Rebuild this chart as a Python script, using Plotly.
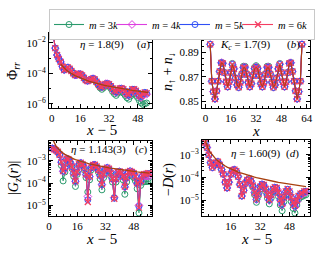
import plotly.graph_objects as go

W, H = 321, 253

# ---------------- data ----------------
# (a) pair correlation Phi_rr vs x-5
r_a = list(range(1, 54))
phi_m6 = [2.8e-2, 4.5e-3, 1.6e-3, 8.9e-4, 5.6e-4, 2.8e-4, 1.66e-4, 1.9e-4, 2.4e-4, 2.0e-4,
          1.41e-4, 1.0e-4, 7.6e-5, 7.9e-5, 8.9e-5, 8.9e-5, 7.1e-5, 5.0e-5, 3.55e-5, 3.16e-5,
          3.55e-5, 4.0e-5, 4.5e-5, 4.0e-5, 2.8e-5, 2.0e-5, 1.41e-5, 1.26e-5, 1.58e-5, 2.0e-5,
          2.1e-5, 1.9e-5, 1.41e-5, 1.0e-5, 7.1e-6, 6.0e-6, 7.9e-6, 1.0e-5, 1.05e-5, 8.9e-6,
          6.3e-6, 4.5e-6, 4.0e-6, 6.3e-6, 8.9e-6, 8.9e-6, 7.1e-6, 5.0e-6, 3.55e-6, 3.16e-6,
          4.5e-6, 5.6e-6, 5.0e-6]
phi_m5 = [2.8e-2, 4.5e-3, 1.6e-3, 8.9e-4, 5.6e-4, 2.8e-4, 1.66e-4, 1.9e-4, 2.4e-4, 2.0e-4,
          1.41e-4, 1.0e-4, 7.6e-5, 7.9e-5, 8.9e-5, 8.9e-5, 7.1e-5, 5.0e-5, 3.55e-5, 3.16e-5,
          3.55e-5, 4.0e-5, 4.5e-5, 4.0e-5, 2.8e-5, 2.0e-5, 1.41e-5, 1.26e-5, 1.58e-5, 2.0e-5,
          2.1e-5, 1.9e-5, 1.41e-5, 1.0e-5, 7.1e-6, 6.0e-6, 7.9e-6, 1.0e-5, 1.05e-5, 8.9e-6,
          6.3e-6, 4.5e-6, 3.8e-6, 6.3e-6, 8.9e-6, 8.9e-6, 7.1e-6, 5.0e-6, 3.4e-6, 3.0e-6,
          4.5e-6, 5.6e-6, 4.8e-6]
phi_m4 = [2.8e-2, 4.5e-3, 1.6e-3, 8.9e-4, 5.6e-4, 2.8e-4, 1.66e-4, 1.9e-4, 2.4e-4, 2.0e-4,
          1.41e-4, 1.0e-4, 7.6e-5, 7.9e-5, 8.9e-5, 8.9e-5, 7.1e-5, 5.0e-5, 3.55e-5, 3.16e-5,
          3.55e-5, 4.0e-5, 4.5e-5, 4.0e-5, 2.8e-5, 2.0e-5, 1.41e-5, 1.26e-5, 1.58e-5, 2.0e-5,
          2.1e-5, 1.9e-5, 1.41e-5, 9.5e-6, 6.6e-6, 5.5e-6, 7.4e-6, 9.3e-6, 9.6e-6, 8.1e-6,
          5.7e-6, 4.0e-6, 3.5e-6, 5.6e-6, 8.0e-6, 8.0e-6, 6.3e-6, 4.4e-6, 3.0e-6, 2.6e-6,
          3.7e-6, 4.7e-6, 4.2e-6]
phi_m3 = [2.8e-2, 4.5e-3, 1.6e-3, 8.9e-4, 5.6e-4, 2.8e-4, 1.66e-4, 1.9e-4, 2.4e-4, 2.0e-4,
          1.41e-4, 1.0e-4, 7.6e-5, 7.9e-5, 8.9e-5, 8.9e-5, 7.1e-5, 5.0e-5, 3.55e-5, 3.16e-5,
          3.55e-5, 4.0e-5, 4.5e-5, 4.0e-5, 2.5e-5, 1.66e-5, 1.12e-5, 8.9e-6, 1.12e-5, 1.5e-5,
          1.58e-5, 1.41e-5, 1.0e-5, 6.3e-6, 4.5e-6, 3.55e-6, 5.0e-6, 6.3e-6, 6.3e-6, 5.0e-6,
          3.55e-6, 2.5e-6, 2.0e-6, 3.16e-6, 4.5e-6, 4.5e-6, 3.55e-6, 2.5e-6, 1.58e-6, 1.12e-6,
          8.9e-7, 1.0e-6, 1.12e-6]
fit_a_amp, fit_a_exp = 7.2e-3, 1.8          # power-law fit shown in (a)
fit_a_r = list(range(5, 55))

# (b) density profile n_up + n_down vs x
x_b = list(range(3, 62))
n_m6 = [0.8966, 0.8665, 0.8580, 0.8520, 0.8585, 0.8665, 0.8745, 0.8815, 0.8810, 0.8735,
        0.8660, 0.8620, 0.8660, 0.8735, 0.8800, 0.8765, 0.8690, 0.8635, 0.8615, 0.8655,
        0.8720, 0.8775, 0.8775, 0.8720, 0.8655, 0.8620, 0.8645, 0.8710, 0.8765, 0.8778,
        0.8765, 0.8710, 0.8645, 0.8620, 0.8655, 0.8720, 0.8775, 0.8775, 0.8720, 0.8655,
        0.8615, 0.8635, 0.8690, 0.8765, 0.8800, 0.8735, 0.8660, 0.8620, 0.8660, 0.8735,
        0.8810, 0.8815, 0.8745, 0.8665, 0.8585, 0.8520, 0.8580, 0.8665, 0.8966]
n_m5 = [0.8966, 0.8665, 0.8580, 0.8520, 0.8585, 0.8665, 0.8745, 0.8815, 0.8810, 0.8735,
        0.8660, 0.8620, 0.8660, 0.8735, 0.8801, 0.8765, 0.8690, 0.8635, 0.8615, 0.8655,
        0.8720, 0.8776, 0.8776, 0.8720, 0.8655, 0.8620, 0.8645, 0.8710, 0.8766, 0.8779,
        0.8766, 0.8710, 0.8645, 0.8620, 0.8655, 0.8720, 0.8776, 0.8776, 0.8720, 0.8655,
        0.8615, 0.8635, 0.8690, 0.8765, 0.8801, 0.8735, 0.8660, 0.8620, 0.8660, 0.8735,
        0.8810, 0.8815, 0.8745, 0.8665, 0.8585, 0.8520, 0.8580, 0.8665, 0.8966]
n_m4 = [0.8966, 0.8665, 0.8580, 0.8520, 0.8585, 0.8665, 0.8745, 0.8816, 0.8811, 0.8735,
        0.8660, 0.8620, 0.8660, 0.8736, 0.8803, 0.8767, 0.8690, 0.8635, 0.8615, 0.8656,
        0.8722, 0.8779, 0.8779, 0.8722, 0.8655, 0.8620, 0.8646, 0.8712, 0.8769, 0.8782,
        0.8769, 0.8712, 0.8646, 0.8620, 0.8655, 0.8722, 0.8779, 0.8779, 0.8722, 0.8656,
        0.8615, 0.8635, 0.8690, 0.8767, 0.8803, 0.8736, 0.8660, 0.8620, 0.8660, 0.8735,
        0.8811, 0.8816, 0.8745, 0.8665, 0.8585, 0.8520, 0.8580, 0.8665, 0.8966]
n_m3 = [0.8966, 0.8665, 0.8580, 0.8520, 0.8585, 0.8665, 0.8745, 0.8818, 0.8813, 0.8736,
        0.8660, 0.8618, 0.8662, 0.8740, 0.8810, 0.8772, 0.8692, 0.8633, 0.8613, 0.8658,
        0.8728, 0.8787, 0.8787, 0.8728, 0.8656, 0.8618, 0.8648, 0.8718, 0.8777, 0.8792,
        0.8777, 0.8718, 0.8648, 0.8618, 0.8656, 0.8728, 0.8787, 0.8787, 0.8728, 0.8658,
        0.8613, 0.8633, 0.8692, 0.8772, 0.8810, 0.8740, 0.8662, 0.8618, 0.8660, 0.8736,
        0.8813, 0.8818, 0.8745, 0.8665, 0.8585, 0.8520, 0.8580, 0.8665, 0.8966]

# (c) |G_z(r)| vs x-5
r_cd = list(range(2, 58))
gz_m6 = [3.7e-3, 3.4e-3, 3.0e-3, 2.6e-3, 1.9e-3, 8.9e-4, 3.55e-4, 5.0e-4, 1.26e-3, 1.2e-3,
         8.9e-4, 5.6e-4, 2.8e-4, 1.26e-4, 3.16e-4, 7.1e-4, 8.3e-4, 7.1e-4, 5.0e-4, 2.5e-4,
         1.41e-5, 2.0e-4, 5.0e-4, 6.6e-4, 6.8e-4, 5.6e-4, 4.0e-4, 2.24e-4, 8.9e-5, 2.5e-4,
         4.5e-4, 5.0e-4, 4.5e-4, 2.8e-4, 1.58e-4, 2.0e-5, 1.58e-4, 3.16e-4, 3.4e-4, 3.0e-4,
         2.0e-4, 7.1e-5, 1.78e-4, 3.16e-4, 3.55e-4, 3.16e-4, 2.8e-4, 2.0e-4, 1.0e-4, 7.9e-6,
         1.26e-4, 2.24e-4, 2.5e-4, 2.6e-4, 2.8e-4, 2.8e-4]
gz_m5 = [3.7e-3, 3.4e-3, 3.0e-3, 2.6e-3, 1.9e-3, 8.9e-4, 3.55e-4, 5.0e-4, 1.26e-3, 1.2e-3,
         8.9e-4, 5.6e-4, 2.8e-4, 1.26e-4, 3.16e-4, 7.1e-4, 8.3e-4, 7.1e-4, 5.0e-4, 2.5e-4,
         1.78e-5, 2.0e-4, 5.0e-4, 6.6e-4, 6.8e-4, 5.6e-4, 4.0e-4, 2.24e-4, 8.9e-5, 2.5e-4,
         4.5e-4, 5.0e-4, 4.5e-4, 2.8e-4, 1.58e-4, 2.1e-5, 1.58e-4, 3.16e-4, 3.4e-4, 3.0e-4,
         2.0e-4, 7.1e-5, 1.78e-4, 3.16e-4, 3.55e-4, 3.16e-4, 2.8e-4, 2.0e-4, 1.0e-4, 8.9e-6,
         1.26e-4, 2.2e-4, 2.45e-4, 2.5e-4, 2.7e-4, 2.7e-4]
gz_m4 = [3.7e-3, 3.4e-3, 3.0e-3, 2.6e-3, 1.9e-3, 8.9e-4, 3.4e-4, 4.9e-4, 1.25e-3, 1.19e-3,
         8.8e-4, 5.5e-4, 2.7e-4, 1.2e-4, 3.1e-4, 7.0e-4, 8.2e-4, 7.0e-4, 4.9e-4, 2.4e-4,
         2.5e-5, 1.95e-4, 4.9e-4, 6.5e-4, 6.7e-4, 5.5e-4, 3.9e-4, 2.15e-4, 8.5e-5, 2.4e-4,
         4.4e-4, 4.9e-4, 4.4e-4, 2.7e-4, 1.5e-4, 2.24e-5, 1.5e-4, 3.05e-4, 3.3e-4, 2.9e-4,
         1.9e-4, 6.6e-5, 1.7e-4, 3.0e-4, 3.4e-4, 3.0e-4, 2.65e-4, 1.9e-4, 9.3e-5, 1.0e-5,
         1.15e-4, 2.0e-4, 2.1e-4, 2.1e-4, 2.1e-4, 2.1e-4]
gz_m3 = [3.7e-3, 3.4e-3, 3.0e-3, 2.6e-3, 1.9e-3, 6.3e-4, 1.26e-4, 3.16e-4, 1.12e-3, 1.07e-3,
         7.9e-4, 4.5e-4, 2.0e-4, 7.1e-5, 2.5e-4, 6.3e-4, 7.6e-4, 6.3e-4, 4.0e-4, 1.78e-4,
         4.0e-5, 1.41e-4, 4.0e-4, 5.6e-4, 5.9e-4, 4.8e-4, 3.16e-4, 1.58e-4, 5.0e-5, 1.78e-4,
         3.55e-4, 4.0e-4, 3.55e-4, 2.1e-4, 1.12e-4, 2.24e-5, 1.12e-4, 2.4e-4, 2.6e-4, 2.24e-4,
         1.41e-4, 3.16e-5, 1.12e-4, 2.1e-4, 2.4e-4, 2.1e-4, 1.78e-4, 1.26e-4, 5.6e-5, 4.5e-6,
         7.9e-5, 1.12e-4, 1.17e-4, 1.17e-4, 1.2e-4, 1.2e-4]
fit_c_amp, fit_c_exp = 2.04e-2, 1.06         # power-law fit shown in (c)
fit_c_r = list(range(2, 58))

# (d) -D(r) vs x-5
d_m6 = [3.5e-3, 2.1e-3, 1.0e-3, 4.5e-4, 2.8e-4, 3.55e-4, 4.5e-4, 5.0e-4, 3.55e-4, 2.24e-4,
        1.41e-4, 6.3e-5, 3.55e-5, 6.3e-5, 1.41e-4, 2.1e-4, 2.24e-4, 1.9e-4, 1.12e-4, 5.0e-5,
        1.58e-5, 2.8e-5, 5.6e-5, 7.9e-5, 8.9e-5, 7.1e-5, 4.5e-5, 2.24e-5, 1.12e-5, 2.0e-5,
        4.0e-5, 5.2e-5, 4.8e-5, 3.16e-5, 1.78e-5, 1.07e-5, 1.78e-5, 3.16e-5, 3.8e-5, 3.55e-5,
        2.24e-5, 1.12e-5, 7.1e-6, 1.41e-5, 2.5e-5, 3.16e-5, 2.5e-5, 1.41e-5, 7.9e-6, 6.0e-6,
        1.0e-5, 1.58e-5, 2.0e-5, 2.1e-5, 2.5e-5, 2.6e-5]
d_m5 = [3.5e-3, 2.1e-3, 1.0e-3, 4.5e-4, 2.8e-4, 3.55e-4, 4.5e-4, 5.0e-4, 3.55e-4, 2.24e-4,
        1.41e-4, 6.3e-5, 3.55e-5, 6.3e-5, 1.41e-4, 2.1e-4, 2.24e-4, 1.9e-4, 1.12e-4, 5.0e-5,
        1.58e-5, 2.8e-5, 5.6e-5, 7.9e-5, 8.9e-5, 7.1e-5, 4.5e-5, 2.24e-5, 1.12e-5, 2.0e-5,
        4.0e-5, 5.2e-5, 4.8e-5, 3.16e-5, 1.78e-5, 1.05e-5, 1.75e-5, 3.1e-5, 3.75e-5, 3.5e-5,
        2.2e-5, 1.1e-5, 6.9e-6, 1.38e-5, 2.45e-5, 3.1e-5, 2.45e-5, 1.38e-5, 7.6e-6, 5.8e-6,
        9.7e-6, 1.55e-5, 1.95e-5, 2.05e-5, 2.45e-5, 2.55e-5]
d_m4 = [3.5e-3, 2.1e-3, 1.0e-3, 4.5e-4, 2.8e-4, 3.55e-4, 4.5e-4, 5.0e-4, 3.55e-4, 2.24e-4,
        1.41e-4, 6.3e-5, 3.55e-5, 6.3e-5, 1.41e-4, 2.1e-4, 2.24e-4, 1.9e-4, 1.12e-4, 5.0e-5,
        1.58e-5, 2.8e-5, 5.6e-5, 7.9e-5, 8.9e-5, 7.0e-5, 4.4e-5, 2.2e-5, 1.1e-5, 1.95e-5,
        3.9e-5, 5.0e-5, 4.6e-5, 3.0e-5, 1.7e-5, 1.0e-5, 1.7e-5, 3.0e-5, 3.6e-5, 3.3e-5,
        2.1e-5, 1.0e-5, 6.3e-6, 1.3e-5, 2.3e-5, 2.9e-5, 2.3e-5, 1.3e-5, 7.1e-6, 5.2e-6,
        9.0e-6, 1.45e-5, 1.8e-5, 1.9e-5, 2.2e-5, 2.3e-5]
d_m3 = [3.5e-3, 2.1e-3, 1.0e-3, 4.5e-4, 2.8e-4, 3.55e-4, 4.5e-4, 5.0e-4, 3.55e-4, 2.24e-4,
        1.41e-4, 6.3e-5, 3.55e-5, 6.3e-5, 1.41e-4, 2.1e-4, 2.24e-4, 1.9e-4, 1.12e-4, 5.0e-5,
        1.58e-5, 2.8e-5, 5.6e-5, 7.9e-5, 8.9e-5, 7.1e-5, 3.8e-5, 1.78e-5, 8.3e-6, 1.58e-5,
        3.16e-5, 4.2e-5, 3.8e-5, 2.4e-5, 1.26e-5, 7.1e-6, 1.26e-5, 2.4e-5, 2.8e-5, 2.5e-5,
        1.5e-5, 6.3e-6, 3.55e-6, 8.9e-6, 1.78e-5, 2.4e-5, 1.78e-5, 8.9e-6, 4.5e-6, 2.8e-6,
        6.3e-6, 1.12e-5, 1.41e-5, 1.5e-5, 1.66e-5, 1.78e-5]
fit_d_amp, fit_d_exp = 1.17e-2, 1.40         # power-law fit shown in (d)
fit_d_r = list(range(2, 58))

m_labels = ["<i>m</i> = 3<i>k</i>", "<i>m</i> = 4<i>k</i>", "<i>m</i> = 5<i>k</i>", "<i>m</i> = 6<i>k</i>"]

# ---------------- styling ----------------
COLORS = ["#2a9a6c", "#dd3ee0", "#3050f5", "#f43d62"]
SYMBOLS = ["circle-open", "diamond-open", "circle-open", "x-thin"]
LEGEND_W = [18, 18, 18, 31]
FIT = "#a8400f"
FONT = "Liberation Serif"

fig = go.Figure()

def add_series(xs, ys_list, xa, ya, legend):
    for i, ys in enumerate(ys_list):
        fig.add_trace(go.Scatter(
            x=xs, y=ys, mode="lines+markers", name=m_labels[i], legendgroup=m_labels[i],
            showlegend=legend, legendwidth=LEGEND_W[i], xaxis=xa, yaxis=ya,
            line=dict(color=COLORS[i], width=1.1),
            marker=dict(symbol=SYMBOLS[i], size=6, color=COLORS[i],
                        line=dict(color=COLORS[i], width=1.3 if i == 3 else 1.0))))

def add_fit(xs, ys, xa, ya, width=1.3):
    fig.add_trace(go.Scatter(x=xs, y=ys, mode="lines", showlegend=False, xaxis=xa, yaxis=ya,
                             line=dict(color=FIT, width=width), hoverinfo="skip"))

add_series(r_a, [phi_m3, phi_m4, phi_m5, phi_m6], "x", "y", True)
add_fit(fit_a_r, [fit_a_amp * r ** (-fit_a_exp) for r in fit_a_r], "x", "y")

add_series(x_b, [n_m3, n_m4, n_m5, n_m6], "x2", "y2", False)
add_fit(x_b, n_m6, "x2", "y2", width=1.0)

add_series(r_cd, [gz_m3, gz_m4, gz_m5, gz_m6], "x3", "y3", False)
add_fit(fit_c_r, [fit_c_amp * r ** (-fit_c_exp) for r in fit_c_r], "x3", "y3")

add_series(r_cd, [d_m3, d_m4, d_m5, d_m6], "x4", "y4", False)
add_fit(fit_d_r, [fit_d_amp * r ** (-fit_d_exp) for r in fit_d_r], "x4", "y4")

def fx(px):
    return px / W

def fy(py):
    return 1 - py / H

tickfont = dict(family=FONT, size=11, color="black")
common = dict(showline=True, linecolor="black", linewidth=1, mirror="allticks", ticks="inside",
              ticklen=4, tickwidth=1, tickcolor="black", showgrid=False, zeroline=False,
              tickfont=tickfont, automargin=False)

xt = [0, 16, 32, 48]
minor_x = dict(ticks="inside", ticklen=2, tickwidth=0.8, tickcolor="black", dtick=4, tick0=0, showgrid=False)

def logminor(lo, hi, sub=True):
    vals = []
    for e in range(lo, hi + 1):
        for k in (range(1, 10) if sub else [1]):
            vals.append(k * 10 ** e)
    return dict(ticks="inside", ticklen=2, tickwidth=0.8, tickcolor="black", tickvals=vals, showgrid=False)

fig.update_layout(
    width=W, height=H, margin=dict(l=0, r=0, t=0, b=0, autoexpand=False),
    plot_bgcolor="white", paper_bgcolor="white",
    font=dict(family=FONT, color="black"),
    xaxis=dict(domain=[fx(49), fx(152)], anchor="y", range=[-1.5, 56], tickvals=xt,
               minor=minor_x, **common),
    yaxis=dict(domain=[fy(108), fy(33)], anchor="x", type="log", range=[-6.28, -1.35],
               tickvals=[1e-6, 1e-4, 1e-2],
               ticktext=["10<sup>−6</sup>", "10<sup>−4</sup>", "10<sup>−2</sup>"],
               minor=logminor(-7, -1, sub=False), **common),
    xaxis2=dict(domain=[fx(202), fx(310)], anchor="y2", range=[-2.2, 66.1], tickvals=xt + [64],
                minor=minor_x, **common),
    yaxis2=dict(domain=[fy(108), fy(33)], anchor="x2", range=[0.8446, 0.9059],
                tickvals=[0.85, 0.87, 0.89], ticktext=["0.85", "0.87", "0.89"],
                minor=dict(ticks="inside", ticklen=2, tickwidth=0.8, tickcolor="black",
                           dtick=0.005, tick0=0.85, showgrid=False), **common),
    xaxis3=dict(domain=[fx(49), fx(152)], anchor="y3", range=[0, 58.4], tickvals=xt,
                minor=minor_x, **common),
    yaxis3=dict(domain=[fy(216), fy(141)], anchor="x3", type="log", range=[-5.48, -2.1],
                tickvals=[1e-5, 1e-4, 1e-3],
                ticktext=["10<sup>−5</sup>", "10<sup>−4</sup>", "10<sup>−3</sup>"],
                minor=logminor(-6, -2), **common),
    xaxis4=dict(domain=[fx(202), fx(310)], anchor="y4", range=[0.3, 59.2], tickvals=xt,
                minor=minor_x, **common),
    yaxis4=dict(domain=[fy(216), fy(140)], anchor="x4", type="log", range=[-5.68, -2.35],
                tickvals=[1e-5, 1e-4, 1e-3],
                ticktext=["10<sup>−5</sup>", "10<sup>−4</sup>", "10<sup>−3</sup>"],
                minor=logminor(-6, -2), **common),
    legend=dict(orientation="h", x=fx(49), y=fy(9), xanchor="left", yanchor="top",
                bordercolor="#c8c8c8", borderwidth=1, bgcolor="white",
                font=dict(family=FONT, size=10.5, color="black"),
                itemwidth=30, tracegroupgap=0),
)

def ann(text, x, y, size=12, angle=0):
    fig.add_annotation(text=text, x=fx(x), y=fy(y), xref="paper", yref="paper",
                       showarrow=False, font=dict(family=FONT, size=size, color="black"),
                       textangle=angle, xanchor="center", yanchor="middle")

# axis titles
ann("<i>x</i> − 5", 101, 130, 15)
ann("<i>x</i>", 256, 131, 15)
ann("<i>x</i> − 5", 101, 239, 15)
ann("<i>x</i> − 5", 256, 239, 15)
ann("Φ<sub><i>rr</i></sub>", 14, 71, 14, -90)
ann("<i>n</i><sub>↑</sub> + <i>n</i><sub>↓</sub>", 169, 71, 14, -90)
ann("|<i>G</i><sub><i>z</i></sub>(<i>r</i>)|", 14, 178, 14, -90)
ann("−<i>D</i>(<i>r</i>)", 169, 179, 14, -90)

# panel annotations
ann("<i>η</i> = 1.8(9)", 102, 45, 11)
ann("(<i>a</i>)", 143, 45, 11)
ann("<i>K</i><sub><i>c</i></sub> = 1.7(9)", 245, 45, 11)
ann("(<i>b</i>)", 293, 45, 11)
ann("<i>η</i> = 1.143(3)", 98, 149, 11)
ann("(<i>c</i>)", 141, 149, 11)
ann("<i>η</i> = 1.60(9)", 256, 153, 11)
ann("(<i>d</i>)", 292, 153, 11)

fig.write_html("out.html", config={"displayModeBar": False},
               post_script="document.body.style.margin='0px';document.body.style.padding='0px';"
                           "document.documentElement.style.overflow='hidden';")
